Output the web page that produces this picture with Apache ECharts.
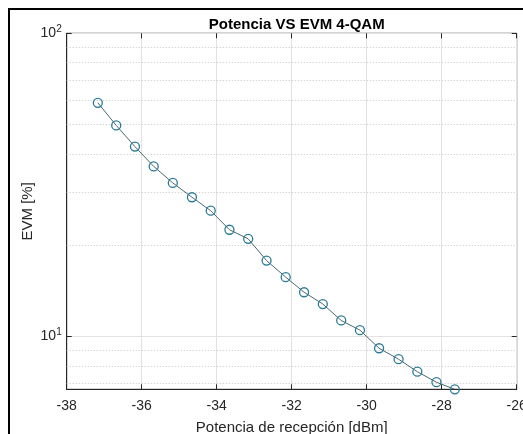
<!DOCTYPE html>
<html>
<head>
<meta charset="utf-8">
<script src="https://cdn.jsdelivr.net/npm/echarts@6/dist/echarts.min.js"></script>
<style>
html,body{margin:0;padding:0;background:#fff;}
#chart{width:523px;height:434px;}
</style>
</head>
<body>
<div id="chart"></div>
<script>
var potencia = [-37.17, -36.68, -36.18, -35.68, -35.17, -34.66, -34.16, -33.66, -33.16, -32.67,
                -32.16, -31.67, -31.17, -30.68, -30.18, -29.67, -29.15, -28.65, -28.14, -27.65];
var evm = [59.0, 49.7, 42.3, 36.4, 32.1, 28.8, 26.0, 22.5, 21.0, 17.8,
           15.7, 14.0, 12.8, 11.3, 10.5, 9.15, 8.42, 7.66, 7.07, 6.70];
var minorGridValues = [7, 8, 9, 20, 30, 40, 50, 60, 70, 80, 90];
var xMin = -38, xMax = -26, xInterval = 2;
var yMin = 6.7, yMax = 100;

var FONT = '"Liberation Sans", Arial, sans-serif';
var chart = echarts.init(document.getElementById('chart'), null, {renderer: 'canvas'});

var points = potencia.map(function (x, i) { return [x, evm[i]]; });

chart.setOption({
  animation: false,
  backgroundColor: '#fff',
  title: {
    text: 'Potencia VS EVM 4-QAM',
    left: 291.7,
    textAlign: 'center',
    top: 12,
    textStyle: {fontFamily: FONT, fontSize: 15, fontWeight: 'bold', color: '#000'}
  },
  graphic: [{
    type: 'rect',
    shape: {x: 9, y: 9, width: 700, height: 700},
    style: {fill: 'none', stroke: '#000', lineWidth: 2},
    silent: true
  }],
  grid: {
    left: 66.7, right: 6.3, top: 33.3, bottom: 44.7,
    containLabel: false,
    outerBoundsMode: 'none',
    show: true, borderColor: '#262626', borderWidth: 1, backgroundColor: '#fff'
  },
  xAxis: [{
    type: 'value',
    min: xMin, max: xMax, interval: xInterval,
    name: 'Potencia de recepción [dBm]',
    nameLocation: 'middle',
    nameGap: 31,
    nameMoveOverlap: false,
    nameTextStyle: {fontFamily: FONT, fontSize: 15, color: '#262626'},
    axisLine: {show: true, lineStyle: {color: '#262626', width: 1}},
    axisTick: {show: true, inside: true, length: 5, lineStyle: {color: '#262626'}},
    axisLabel: {fontFamily: FONT, fontSize: 14, color: '#262626', margin: 10},
    splitLine: {show: true, lineStyle: {color: '#e2e2e2', width: 1}}
  }, {
    type: 'value', position: 'top',
    min: xMin, max: xMax, interval: xInterval,
    axisLine: {show: false},
    axisTick: {show: true, inside: true, length: 5, lineStyle: {color: '#262626'}},
    axisLabel: {show: false},
    splitLine: {show: false}
  }],
  yAxis: [{
    type: 'log', logBase: 10,
    min: yMin, max: yMax,
    name: 'EVM [%]',
    nameLocation: 'middle',
    nameGap: 31,
    nameMoveOverlap: false,
    nameTextStyle: {fontFamily: FONT, fontSize: 15, color: '#262626'},
    axisLine: {show: true, lineStyle: {color: '#262626', width: 1}},
    axisTick: {show: true, inside: true, length: 5, lineStyle: {color: '#262626'}},
    axisLabel: {
      margin: 5,
      formatter: function (v) {
        var e = Math.log10(v);
        if (Math.abs(e - Math.round(e)) > 1e-6) return '';
        return '{b|10}{s|' + Math.round(e) + '}';
      },
      rich: {
        b: {fontFamily: FONT, fontSize: 14, color: '#262626'},
        s: {fontFamily: FONT, fontSize: 10, color: '#262626', padding: [0, 0, 8, 0]}
      }
    },
    splitLine: {show: true, lineStyle: {color: '#e2e2e2', width: 1}}
  }, {
    type: 'log', logBase: 10, position: 'right',
    min: yMin, max: yMax,
    axisLine: {show: false},
    axisTick: {show: true, inside: true, length: 5, lineStyle: {color: '#262626'}},
    axisLabel: {show: false},
    splitLine: {show: false}
  }],
  series: [{
    type: 'line',
    data: points,
    symbol: 'circle',
    symbolSize: 9,
    showSymbol: true,
    lineStyle: {color: '#4a6870', width: 1},
    itemStyle: {color: 'rgba(255,255,255,0)', borderColor: '#2a7b96', borderWidth: 1.3},
    z: 5,
    markLine: {
      silent: true,
      symbol: 'none',
      label: {show: false},
      lineStyle: {type: [1, 2], color: '#c4c4c4', width: 1},
      data: minorGridValues.map(function (v) { return {yAxis: v}; }),
      z: 1
    }
  }]
});
</script>
</body>
</html>
